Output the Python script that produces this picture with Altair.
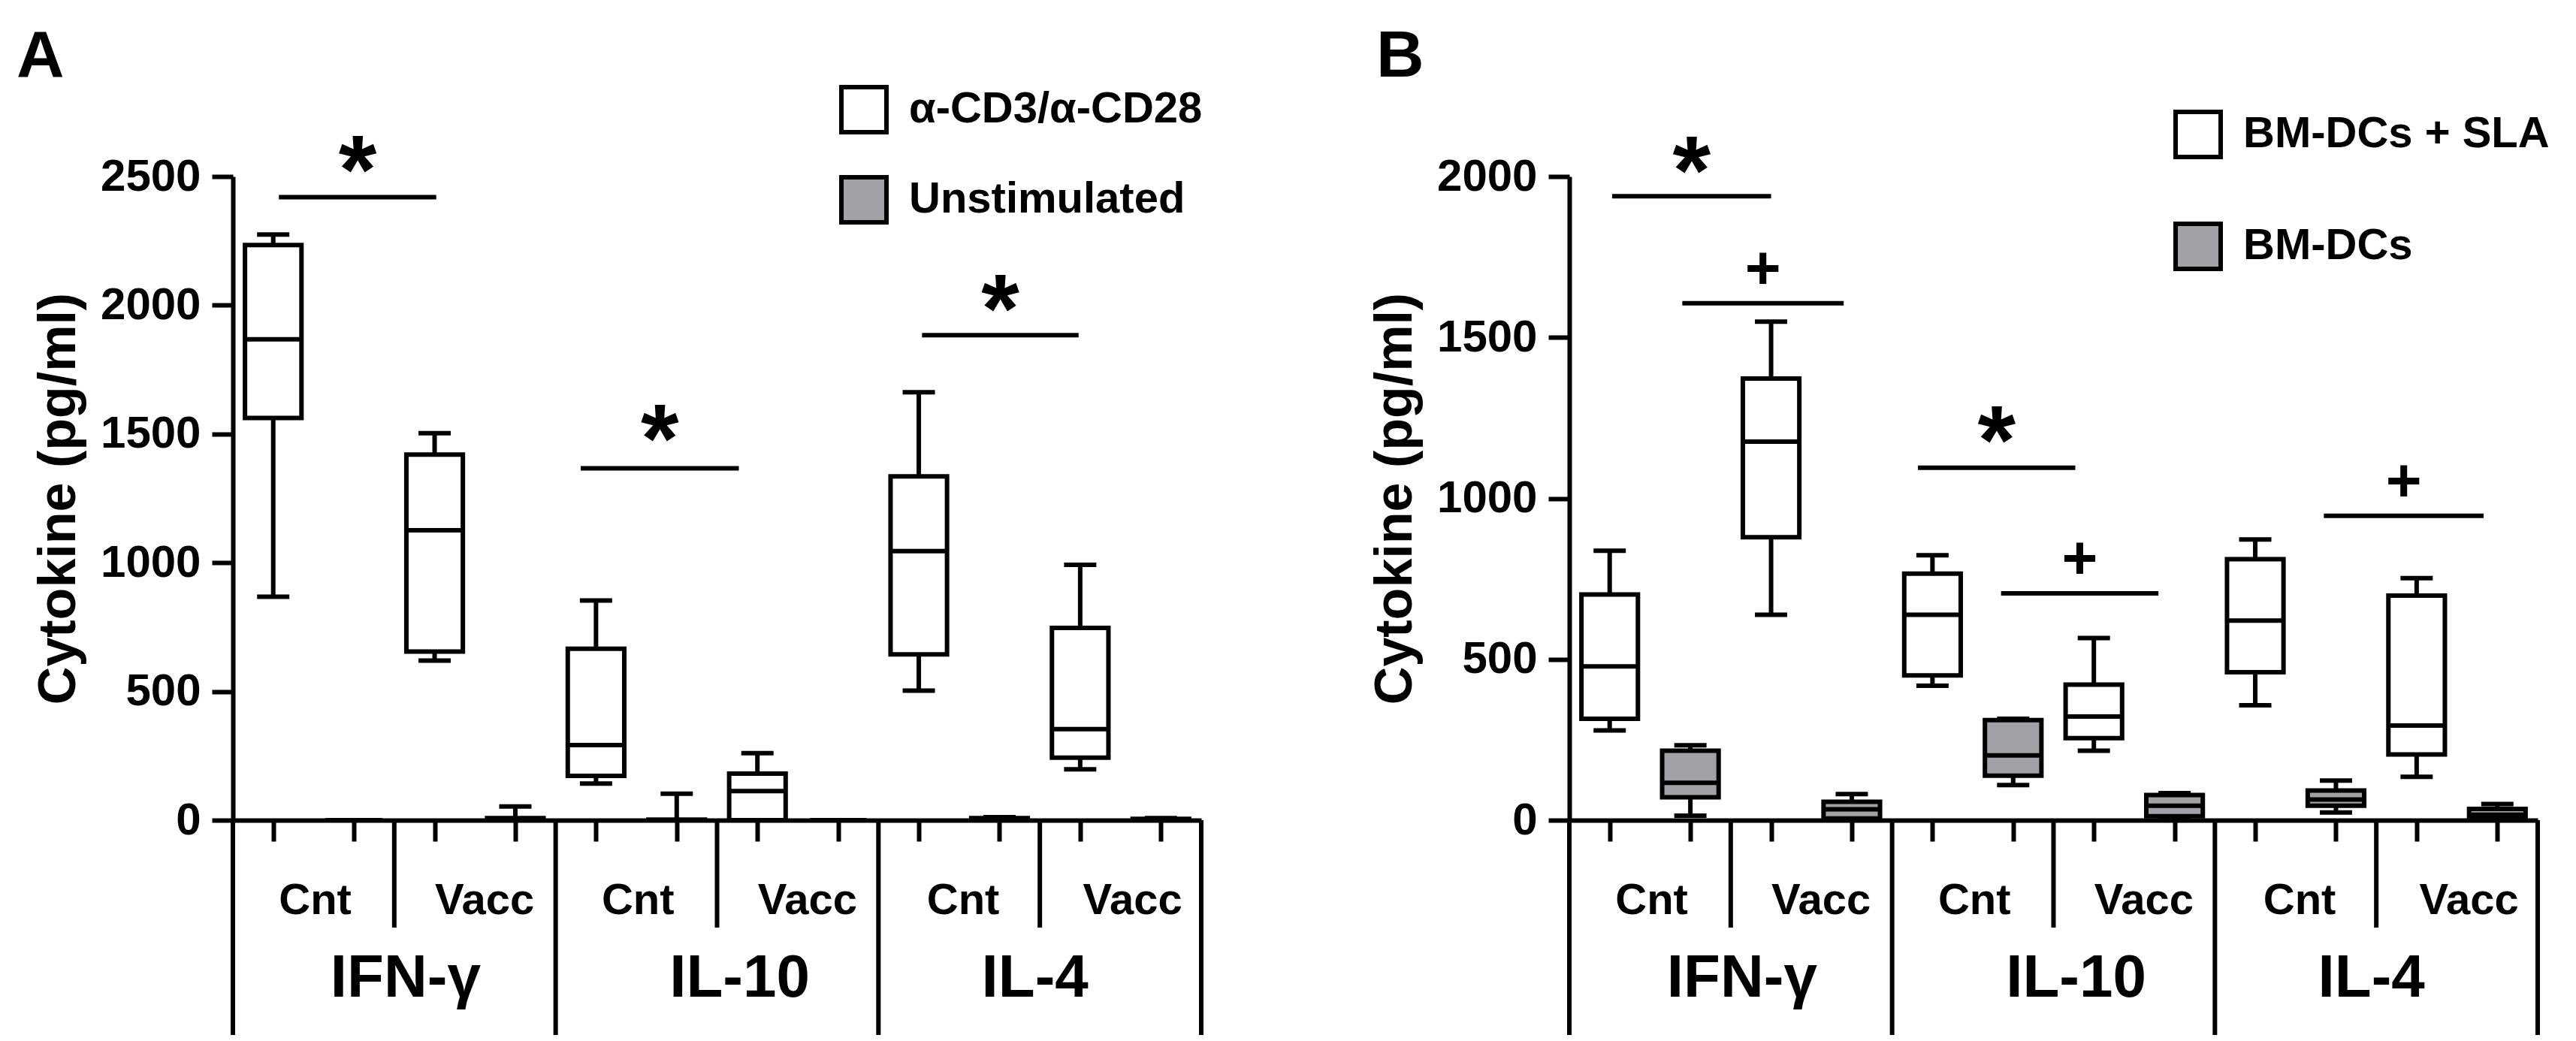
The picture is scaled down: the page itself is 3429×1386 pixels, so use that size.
import altair as alt
import pandas as pd

FONT = "Liberation Sans, Arial, Helvetica, sans-serif"
NARROW = "Liberation Sans Narrow, Arial Narrow, Liberation Sans, Arial, sans-serif"
BLACK = "#000000"
GRAY = "#a1a1a6"
W, H = 1289, 857
LW = 6

# ---- shared category layout ----
slots = list(range(12))
stim_flags = [0, 1] * 6          # 0 = stimulated (white box), 1 = unstimulated (gray box)
group_names = ["Cnt", "Vacc", "Cnt", "Vacc", "Cnt", "Vacc"]
group_pos = [0.52, 2.62, 4.52, 6.62, 8.55, 10.65]
cytokine_names = ["IFN-γ", "IL-10", "IL-4"]
cytokine_pos = [1.64, 5.78, 9.44]
minor_sep_pos = [1.5, 5.5, 9.5]
major_sep_pos = [-0.5, 3.5, 7.5, 11.5]

# ---- Panel A ----
A_series = ["α-CD3/α-CD28", "Unstimulated"]
A_ticks = [0, 500, 1000, 1500, 2000, 2500]
A_low = [868, 0, 620, 0, 142, 0, 0, 0, 503, 0, 198, 0]
A_q1 = [1562, 0, 655, 0, 172, 0, 0, 0, 644, 0, 243, 0]
A_med = [1868, 0, 1126, 3, 292, 0, 113, 0, 1045, 3, 354, 2]
A_q3 = [2234, 0, 1420, 8, 666, 2, 181, 0, 1335, 8, 747, 5]
A_high = [2275, 0, 1503, 53, 853, 103, 260, 0, 1662, 12, 992, 8]
A_sig_x1 = [0.07, 3.81, 8.04]
A_sig_x2 = [2.02, 5.77, 9.98]
A_sig_y = [2420, 1367, 1884]
A_sig_mark_y = [2613, 1570, 2075]
A_sig_sym = ["*", "*", "*"]

# ---- Panel B ----
B_series = ["BM-DCs + SLA", "BM-DCs"]
B_ticks = [0, 500, 1000, 1500, 2000]
B_low = [279, 14, 638, 0, 418, 109, 216, 5, 357, 24, 135, 3]
B_q1 = [315, 71, 879, 5, 450, 138, 255, 12, 460, 45, 204, 8]
B_med = [478, 116, 1176, 34, 638, 201, 322, 45, 620, 64, 294, 17]
B_q3 = [701, 216, 1372, 57, 766, 311, 421, 78, 811, 92, 698, 35]
B_high = [837, 233, 1549, 81, 823, 315, 566, 84, 872, 123, 752, 50]
B_sig_x1 = [0.03, 0.90, 3.82, 4.85, 8.85]
B_sig_x2 = [2.00, 2.90, 5.77, 6.80, 10.83]
B_sig_y = [1939, 1606, 1095, 705, 946]
B_sig_mark_y = [2088, 1719, 1251, 818, 1060]
B_sig_sym = ["*", "+", "*", "+", "+"]


def build_panel(letter, series, ticks, low, q1, med, q3, high,
                sx1, sx2, sy, smy, ssym, legend_x, legend_y, legend_row_pad, letter_x):
    ymax = ticks[-1]
    xs = alt.Scale(domain=[-0.5, 11.5], nice=False, zero=False)
    ys = alt.Scale(domain=[0, ymax], nice=False, zero=True)
    xaxis = alt.Axis(values=slots, labels=False, title=None, grid=False,
                     tickSize=28, tickWidth=LW, domainWidth=LW,
                     tickColor=BLACK, domainColor=BLACK)
    yaxis = alt.Axis(values=ticks, format="d", title="Cytokine (pg/ml)", grid=False,
                     tickSize=28, tickWidth=LW, domainWidth=LW,
                     tickColor=BLACK, domainColor=BLACK,
                     labelFont=NARROW, labelFontSize=60, labelFontWeight="bold",
                     labelColor=BLACK, labelPadding=15,
                     titleFont=FONT, titleFontSize=70, titleFontWeight="bold",
                     titleColor=BLACK, titleAngle=-90, titleX=-232, titleY=H / 2,
                     titleAlign="center", titleBaseline="middle")

    def X(f):
        return alt.X(f, type="quantitative", scale=xs, axis=xaxis)

    def Y(f):
        return alt.Y(f, type="quantitative", scale=ys, axis=yaxis)

    box_df = pd.DataFrame({
        "slot": slots,
        "series": [series[f] for f in stim_flags],
        "low": low, "q1": q1, "med": med, "q3": q3, "high": high,
    })
    base = alt.Chart(box_df).transform_calculate(
        bl="datum.slot - 0.35", br="datum.slot + 0.35",
        cl="datum.slot - 0.2", cr="datum.slot + 0.2",
    )
    whisker = base.mark_rule(color=BLACK, strokeWidth=LW).encode(
        x=X("slot"), y=Y("low"), y2="high")
    cap_lo = base.mark_rule(color=BLACK, strokeWidth=LW).encode(
        x=X("cl"), x2="cr", y=Y("low"))
    cap_hi = base.mark_rule(color=BLACK, strokeWidth=LW).encode(
        x=X("cl"), x2="cr", y=Y("high"))
    boxes = base.mark_rect(stroke=BLACK, strokeWidth=LW).encode(
        x=X("bl"), x2="br", y=Y("q1"), y2="q3",
        fill=alt.Fill("series:N",
                      scale=alt.Scale(domain=series, range=["#ffffff", GRAY]),
                      legend=alt.Legend(title=None, orient="none",
                                        legendX=legend_x, legendY=legend_y,
                                        symbolType="square", symbolSize=3600,
                                        symbolStrokeColor=BLACK, symbolStrokeWidth=LW,
                                        labelFont=FONT, labelFontSize=58,
                                        labelFontWeight="bold", labelColor=BLACK,
                                        labelOffset=27, labelLimit=1000,
                                        rowPadding=legend_row_pad, padding=0,
                                        direction="vertical")))
    median = base.mark_rule(color=BLACK, strokeWidth=LW).encode(
        x=X("bl"), x2="br", y=Y("med"))

    sig_df = pd.DataFrame({"x1": sx1, "x2": sx2, "y": sy, "ty": smy, "sym": ssym})
    sig_bars = alt.Chart(sig_df).mark_rule(color=BLACK, strokeWidth=LW).encode(
        x=X("x1"), x2="x2", y=Y("y"))
    sig_base = alt.Chart(sig_df).transform_calculate(xm="(datum.x1 + datum.x2) / 2")
    stars = sig_base.transform_filter("datum.sym == '*'").mark_text(
        font=FONT, fontSize=130, fontWeight="bold", baseline="alphabetic",
        align="center", dy=75, color=BLACK).encode(x=X("xm"), y=Y("ty"), text="sym:N")
    pluses = sig_base.transform_filter("datum.sym == '+'").mark_text(
        font=FONT, fontSize=82, fontWeight="bold", baseline="alphabetic",
        align="center", dy=29, color=BLACK).encode(x=X("xm"), y=Y("ty"), text="sym:N")

    minor = alt.Chart(pd.DataFrame({"p": minor_sep_pos})).mark_rule(
        color=BLACK, strokeWidth=LW).encode(x=X("p"), y=alt.value(H), y2=alt.value(H + 143))
    major = alt.Chart(pd.DataFrame({"p": major_sep_pos})).mark_rule(
        color=BLACK, strokeWidth=LW).encode(x=X("p"), y=alt.value(H), y2=alt.value(H + 286))

    grp = alt.Chart(pd.DataFrame({"p": group_pos, "t": group_names})).mark_text(
        font=FONT, fontSize=58, fontWeight="bold", baseline="alphabetic",
        align="center", color=BLACK).encode(x=X("p"), y=alt.value(H + 125), text="t:N")
    cyt = alt.Chart(pd.DataFrame({"p": cytokine_pos, "t": cytokine_names})).mark_text(
        font=FONT, fontSize=80, fontWeight="bold", baseline="alphabetic",
        align="center", color=BLACK).encode(x=X("p"), y=alt.value(H + 235), text="t:N")

    let = alt.Chart(pd.DataFrame({"t": [letter]})).mark_text(
        font=FONT, fontSize=88, fontWeight="bold", baseline="alphabetic",
        align="left", color=BLACK).encode(x=alt.value(letter_x), y=alt.value(-133), text="t:N")

    return alt.layer(minor, major, whisker, boxes, median, cap_lo, cap_hi,
                     sig_bars, stars, pluses, grp, cyt, let).properties(width=W, height=H)


panel_a = build_panel("A", A_series, A_ticks, A_low, A_q1, A_med, A_q3, A_high,
                      A_sig_x1, A_sig_x2, A_sig_y, A_sig_mark_y, A_sig_sym,
                      807, -122, 36, -288)
panel_b = build_panel("B", B_series, B_ticks, B_low, B_q1, B_med, B_q3, B_high,
                      B_sig_x1, B_sig_x2, B_sig_y, B_sig_mark_y, B_sig_sym,
                      804, -89, 65, -257)

chart = alt.hconcat(panel_a, panel_b, spacing=490, bounds="flush").resolve_scale(
    x="independent", y="independent", fill="independent"
).resolve_legend(fill="independent").properties(
    padding={"left": 14, "top": 24, "right": 5, "bottom": 5}
).configure(font=FONT, background="white").configure_view(stroke=None)

chart.save("out.html", embed_options={"renderer": "svg", "actions": False})
